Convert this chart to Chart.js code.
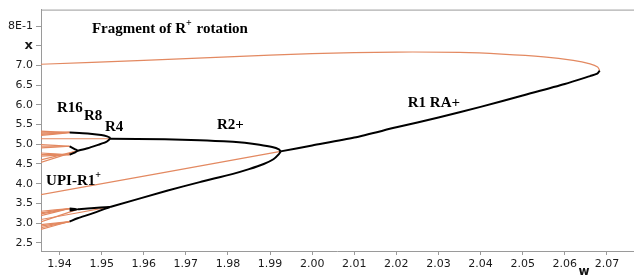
<!DOCTYPE html>
<html>
<head>
<meta charset="utf-8">
<script src="https://cdn.jsdelivr.net/npm/chart.js@4.4.0/dist/chart.umd.min.js"></script>
<style>
    html, body { margin: 0; padding: 0; background: #fff; }
    #wrap { width: 634px; height: 277px; }
</style>
</head>
<body>
<div id="wrap"><canvas id="chart"></canvas></div>
<script>
// Axis ticks
const wTicks = [1.94, 1.95, 1.96, 1.97, 1.98, 1.99, 2.00, 2.01, 2.02, 2.03, 2.04, 2.05, 2.06, 2.07];
const xTicks = [2.5, 3.0, 3.5, 4.0, 4.5, 5.0, 5.5, 6.0, 6.5, 7.0, 7.5, 8.0];
const xTickLabels = ['2.5', '3.0', '3.5', '4.0', '4.5', '5.0', '5.5', '6.0', '6.5', '7.0', 'x', '8E-1'];

// Period-1 orbit (R1): unstable top of the fold, stable part, unstable part below the PD point
const r1TopW = [1.9355, 1.96, 1.98, 2.00, 2.02, 2.035, 2.045, 2.055, 2.062, 2.066, 2.0678, 2.0683];
const r1TopX = [7.03, 7.13, 7.22, 7.30, 7.34, 7.33, 7.29, 7.22, 7.13, 7.04, 6.96, 6.87];
const r1StableW = [2.0683, 2.0677, 2.066, 2.06, 2.05, 2.04, 2.03, 2.02, 2.01, 2.00, 1.9925];
const r1StableX = [6.87, 6.79, 6.73, 6.53, 6.24, 5.95, 5.68, 5.43, 5.17, 4.97, 4.82];
const r1LowW = [1.9925, 1.9355];
const r1LowX = [4.82, 3.72];

// Period-2 (R2+)
const r2UpW = [1.9925, 1.9921, 1.9905, 1.9875, 1.984, 1.9812, 1.9733, 1.965, 1.952];
const r2UpX = [4.82, 4.87, 4.93, 4.99, 5.04, 5.065, 5.105, 5.125, 5.14];
const r2LowW = [1.9925, 1.9921, 1.9908, 1.9885, 1.985, 1.9812, 1.9733, 1.9655, 1.952];
const r2LowX = [4.82, 4.75, 4.62, 4.50, 4.37, 4.25, 4.04, 3.82, 3.41];

// Period-4 / period-8, upper cluster
const r4aUpW = [1.952, 1.9519, 1.9513, 1.9499, 1.9467, 1.9424];
const r4aUpX = [5.14, 5.17, 5.20, 5.235, 5.275, 5.30];
const r4aLowW = [1.952, 1.9511, 1.9491, 1.9467, 1.9443];
const r4aLowX = [5.14, 5.06, 4.985, 4.90, 4.835];
const r8aW = [1.9424, 1.9436, 1.9443, 1.9436, 1.9424];
const r8aX = [4.95, 4.88, 4.835, 4.79, 4.735];

// Period-4 / period-8, lower cluster
const r4bUpW = [1.952, 1.9475, 1.9443];
const r4bUpX = [3.41, 3.38, 3.35];
const r4bLowW = [1.952, 1.9475, 1.9443, 1.9424];
const r4bLowX = [3.41, 3.235, 3.125, 3.04];
const r8bW = [1.9424, 1.9443, 1.9424];
const r8bX = [3.37, 3.35, 3.32];

// Unstable orbits of the cascade running out to the left edge
const fanEdgeW = 1.9355;
const fanStartX = [5.335, 5.31, 5.28, 5.25, 5.225, 5.14, 4.99, 4.95, 4.91, 4.78, 4.74, 4.70, 4.60, 4.54,
                   3.30, 3.26, 3.23, 3.19, 3.09, 3.03, 2.96, 2.92, 2.88, 2.84];
const fanEndW = [1.9424, 1.9424, 1.9424, 1.9424, 1.9424, 1.952, 1.9424, 1.9424, 1.9424, 1.9424, 1.9424, 1.9424, 1.9443, 1.9443,
                 1.9424, 1.9424, 1.9424, 1.9424, 1.952, 1.9443, 1.9424, 1.9424, 1.9424, 1.9424];
const fanEndX = [5.30, 5.30, 5.30, 5.30, 5.295, 5.14, 4.95, 4.95, 4.95, 4.735, 4.735, 4.735, 4.835, 4.835,
                 3.37, 3.37, 3.37, 3.37, 3.41, 3.35, 3.04, 3.04, 3.04, 3.04];

const ORANGE = 'rgb(227,137,97)';
const datasets = [];

const addBranch = (w, x, stable) => {
    datasets.push({
        data: w.map((v, i) => ({ x: v, y: x[i] })),
        showLine: true,
        borderColor: stable ? '#000' : ORANGE,
        borderWidth: stable ? 2 : 1.2,
        pointRadius: 0,
        tension: 0.25,
        fill: false
    });
};

// stable first so they are painted on top
addBranch(r1StableW, r1StableX, true);
addBranch(r2UpW, r2UpX, true);
addBranch(r2LowW, r2LowX, true);
addBranch(r4aUpW, r4aUpX, true);
addBranch(r4aLowW, r4aLowX, true);
addBranch(r8aW, r8aX, true);
addBranch(r4bUpW, r4bUpX, true);
addBranch(r4bLowW, r4bLowX, true);
addBranch(r8bW, r8bX, true);
addBranch(r1TopW, r1TopX, false);
addBranch(r1LowW, r1LowX, false);
fanStartX.forEach((x0, i) => addBranch([fanEdgeW, fanEndW[i]], [x0, fanEndX[i]], false));

// Text notes, anchored in data units (w, x)
const notes = [
    { parts: [['Fragment of R'], ['+', true], [' rotation']], w: 1.9477, x: 7.82 },
    { parts: [['R16']], w: 1.9394, x: 5.82 },
    { parts: [['R8']], w: 1.9458, x: 5.62 },
    { parts: [['R4']], w: 1.9508, x: 5.34 },
    { parts: [['R2+']], w: 1.9774, x: 5.39 },
    { parts: [['R1 RA+']], w: 2.0227, x: 5.94 },
    { parts: [['UPI-R1'], ['+', true]], w: 1.9368, x: 3.97 }
];

const drawParts = (ctx, parts, x, y) => {
    parts.forEach(([txt, sup]) => {
        ctx.font = sup ? 'bold 10px "Liberation Serif"' : 'bold 15px "Liberation Serif"';
        ctx.fillText(txt, x, sup ? y - 7 : y);
        x += ctx.measureText(txt).width + (sup ? 1 : 0);
    });
};

const annotate = {
    id: 'annotate',
    afterDraw(chart) {
        const { ctx, chartArea, scales } = chart;
        ctx.save();
        // top frame line
        ctx.strokeStyle = '#9a9a9a';
        ctx.lineWidth = 1;
        ctx.beginPath();
        ctx.moveTo(chartArea.left, chartArea.top + 0.5);
        ctx.lineTo(chart.width, chartArea.top + 0.5);
        ctx.stroke();

        ctx.fillStyle = '#000';
        ctx.textBaseline = 'alphabetic';
        ctx.textAlign = 'left';
        notes.forEach(n => {
            drawParts(ctx, n.parts, scales.x.getPixelForValue(n.w), scales.y.getPixelForValue(n.x));
        });

        // axis name under the w axis
        ctx.font = 'bold 12px "DejaVu Sans"';
        ctx.textAlign = 'center';
        ctx.fillStyle = '#111';
        ctx.fillText('w', scales.x.getPixelForValue(2.0646), chartArea.bottom + 24);
        ctx.restore();
    }
};

new Chart(document.getElementById('chart'), {
    type: 'scatter',
    data: { datasets },
    options: {
        responsive: true,
        maintainAspectRatio: false,
        animation: false,
        layout: { padding: { top: 6, right: 1, left: 0, bottom: 0 } },
        plugins: {
            legend: { display: false },
            tooltip: { enabled: false }
        },
        scales: {
            x: {
                type: 'linear',
                min: 1.9356,
                max: 2.0762,
                afterBuildTicks: s => { s.ticks = wTicks.map(v => ({ value: v })); },
                afterFit: s => { s.height = 26; },
                grid: { drawOnChartArea: false, tickLength: 4, color: '#9a9a9a' },
                border: { color: '#9a9a9a', width: 1 },
                ticks: {
                    padding: 3,
                    maxRotation: 0,
                    autoSkip: false,
                    color: '#1a1a1a',
                    font: { family: 'DejaVu Sans', size: 11 },
                    callback: v => v.toFixed(2)
                }
            },
            y: {
                type: 'linear',
                min: 2.2925,
                max: 8.4175,
                afterBuildTicks: s => { s.ticks = xTicks.map(v => ({ value: v })); },
                afterFit: s => { s.width = 41; },
                grid: { drawOnChartArea: false, tickLength: 5, color: '#9a9a9a' },
                border: { color: '#9a9a9a', width: 1 },
                ticks: {
                    padding: 3,
                    autoSkip: false,
                    color: '#1a1a1a',
                    font: c => (c.tick && c.tick.value === 7.5)
                        ? { family: 'DejaVu Sans', size: 13, weight: 'bold' }
                        : { family: 'DejaVu Sans', size: 11 },
                    callback: (v) => xTickLabels[xTicks.indexOf(v)]
                }
            }
        }
    },
    plugins: [annotate]
});
</script>
</body>
</html>
